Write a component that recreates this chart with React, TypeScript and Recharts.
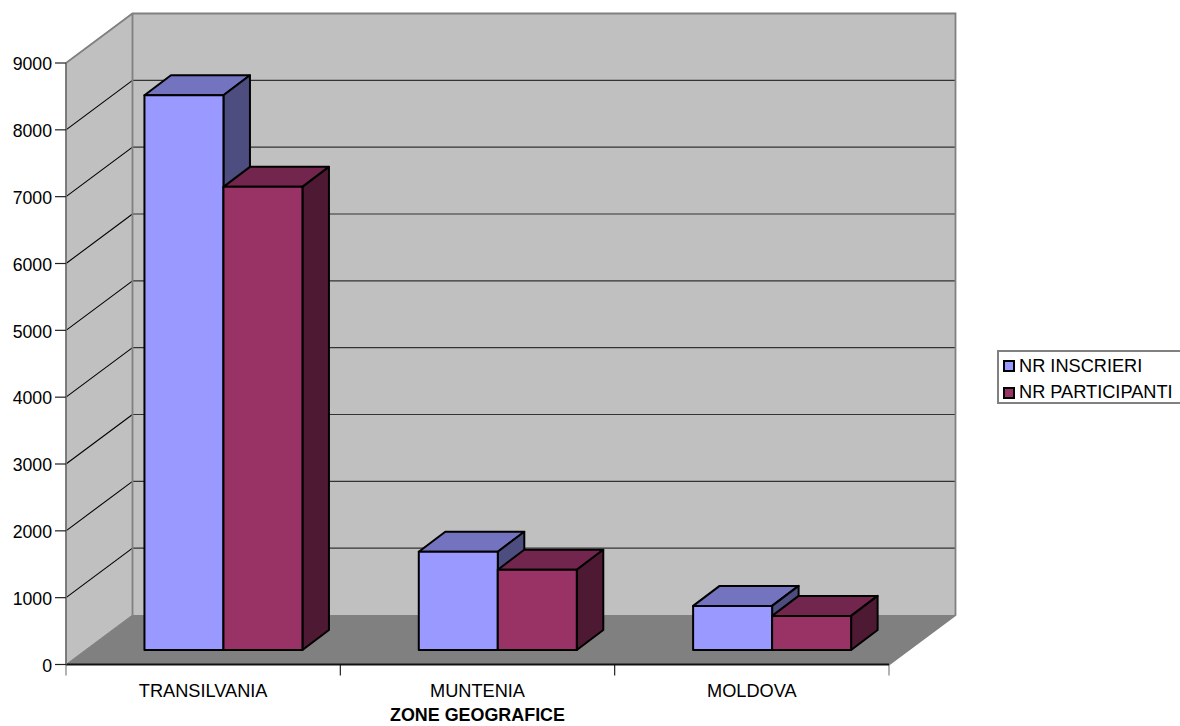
import { BarChart, Bar, XAxis, YAxis, Legend, Customized } from 'recharts'

const zones = ['TRANSILVANIA', 'MUNTENIA', 'MOLDOVA']
const inscrieri = [8300, 1470, 660]
const participanti = [6930, 1200, 510]
const yTicks = [0, 1000, 2000, 3000, 4000, 5000, 6000, 7000, 8000, 9000]

const data = zones.map((zone, i) => ({
  zone,
  inscrieri: inscrieri[i],
  participanti: participanti[i],
}))

const FONT = '"Liberation Sans", Arial, sans-serif'
const FONT_SIZE = 18.2
const W = 1180
const H = 726
const LEFT = 66
const RIGHT = 889
const TOP = 63
const BOTTOM = 664.5
// depth of the box the chart sits in
const DEPTH_X = 66.5
const DEPTH_Y = 49.5

const yOf = (v: number) => BOTTOM - (v / 9000) * (BOTTOM - TOP)

// walls, floor and gridlines behind the bars
const Backdrop = () => {
  const bx = LEFT + DEPTH_X
  const bRight = RIGHT + DEPTH_X
  const by = (v: number) => yOf(v) - DEPTH_Y
  const bandW = (RIGHT - LEFT) / zones.length
  return (
    <g>
      <polygon points={`${bx},${by(9000)} ${bRight},${by(9000)} ${bRight},${by(0)} ${bx},${by(0)}`} fill="#c0c0c0" />
      <polygon points={`${LEFT},${TOP} ${bx},${by(9000)} ${bx},${by(0)} ${LEFT},${BOTTOM}`} fill="#c0c0c0" />
      <polygon points={`${LEFT},${BOTTOM} ${bx},${by(0)} ${bRight},${by(0)} ${RIGHT},${BOTTOM}`} fill="#808080" />
      {yTicks.filter(t => t > 0 && t < 9000).map(t => (
        <g key={t}>
          <line x1={LEFT} y1={yOf(t)} x2={bx} y2={by(t)} stroke="#000" strokeWidth={1.1} />
          <line x1={bx} y1={by(t)} x2={bRight} y2={by(t)} stroke="#333" strokeWidth={1.1} />
        </g>
      ))}
      <polyline
        points={`${LEFT},${TOP} ${bx},${by(9000)} ${bRight},${by(9000)} ${bRight},${by(0)} ${RIGHT},${BOTTOM}`}
        fill="none" stroke="#808080" strokeWidth={1.8}
      />
      <line x1={bx} y1={by(9000)} x2={bx} y2={by(0)} stroke="#808080" strokeWidth={1.8} />
      <line x1={bx} y1={by(0)} x2={LEFT} y2={BOTTOM} stroke="#808080" strokeWidth={1} />
      {zones.concat('').map((_, i) => (
        <line
          key={i}
          x1={LEFT + i * bandW} y1={BOTTOM} x2={LEFT + i * bandW} y2={BOTTOM + 11}
          stroke={i === 0 || i === zones.length ? '#808080' : '#222'}
          strokeWidth={1.2}
        />
      ))}
    </g>
  )
}

const bar3d = (front: string, top: string, side: string) => (props: any) => {
  const dx = 20.3
  const dy = -14.5
  const ox = 26.5
  const oy = -20
  const x = props.x + dx
  const y = props.y + dy
  const r = x + props.width
  const b = y + props.height
  return (
    <g stroke="#000" strokeWidth={2} strokeLinejoin="round">
      <polygon points={`${x},${y} ${x + ox},${y + oy} ${r + ox},${y + oy} ${r},${y}`} fill={top} />
      <polygon points={`${r},${y} ${r + ox},${y + oy} ${r + ox},${b + oy} ${r},${b}`} fill={side} />
      <rect x={x} y={y} width={props.width} height={props.height} fill={front} />
    </g>
  )
}

const LegendBox = ({ payload }: any) => (
  <div style={{
    boxSizing: 'border-box',
    width: 190,
    height: 54,
    border: '2px solid #808080',
    background: '#fff',
    fontFamily: FONT,
    fontSize: FONT_SIZE,
    color: '#000',
    paddingTop: 1,
  }}>
    {(payload ?? []).map((p: any) => (
      <div key={p.value} style={{ display: 'flex', alignItems: 'center', height: 26.5, whiteSpace: 'nowrap' }}>
        <span style={{
          boxSizing: 'border-box',
          width: 12,
          height: 12,
          marginLeft: 4,
          marginRight: 4,
          border: '2px solid #000',
          background: p.color,
        }} />
        {p.value}
      </div>
    ))}
  </div>
)

export default function App() {
  return (
    <div style={{ position: 'absolute', left: 0, top: 0, width: W, height: H, overflow: 'hidden', background: '#fff' }}>
      <BarChart
        width={W}
        height={H}
        data={data}
        margin={{ top: TOP, right: W - RIGHT, bottom: 0, left: 0 }}
        barCategoryGap={58.15}
        barGap={0}
        style={{ fontFamily: FONT }}
      >
        <Customized component={Backdrop} />
        <XAxis
          dataKey="zone"
          height={H - BOTTOM}
          axisLine={{ stroke: '#111', strokeWidth: 1.8 }}
          tickLine={false}
          tick={{ fill: '#000', fontSize: FONT_SIZE }}
          tickMargin={14}
          label={{
            value: 'ZONE GEOGRAFICE',
            position: 'insideBottom',
            offset: 5,
            fill: '#000',
            fontSize: 17.9,
            fontWeight: 700,
          }}
        />
        <YAxis
          width={LEFT}
          domain={[0, 9000]}
          ticks={yTicks}
          interval={0}
          axisLine={{ stroke: '#707070', strokeWidth: 1.8 }}
          tickLine={{ stroke: '#222', strokeWidth: 1.2 }}
          tickSize={11}
          tickMargin={3}
          dy={1}
          tick={{ fill: '#000', fontSize: 17.7 }}
        />
        <Legend
          layout="vertical"
          align="center"
          verticalAlign="middle"
          content={<LegendBox />}
          wrapperStyle={{ left: 997, top: 350, width: 190 }}
        />
        <Bar
          dataKey="inscrieri"
          name="NR INSCRIERI"
          fill="#9999ff"
          shape={bar3d('#9999ff', '#7373bf', '#4d4d80')}
          isAnimationActive={false}
        />
        <Bar
          dataKey="participanti"
          name="NR PARTICIPANTI"
          fill="#993366"
          shape={bar3d('#993366', '#73264d', '#4d1933')}
          isAnimationActive={false}
        />
      </BarChart>
    </div>
  )
}
